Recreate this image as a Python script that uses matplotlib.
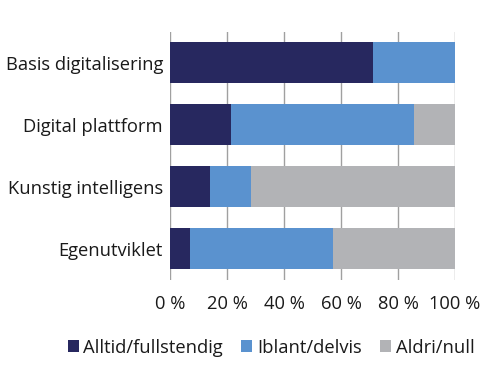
import matplotlib
matplotlib.use("Agg")
from matplotlib import pyplot as plt
import numpy as np

categories = ["Basis digitalisering", "Digital plattform", "Kunstig intelligens", "Egenutviklet"]
series_names = ["Alltid/fullstendig", "Iblant/delvis", "Aldri/null"]
alltid = [71.3, 21.3, 14.2, 7.1]
iblant = [28.7, 64.4, 14.3, 50.0]
aldri = [0.0, 14.3, 71.5, 42.9]
xticks = [0, 20, 40, 60, 80, 100]

colors = ["#27285f", "#5a92cf", "#b2b3b6"]

plt.rcParams['font.family'] = ['Open Sans', 'DejaVu Sans']

fig = plt.figure(figsize=(5, 3.83), dpi=100)
ax = fig.add_axes([0.34, 0.269, 0.57, 0.648])

y = np.arange(len(categories))
left = np.zeros(len(categories))
for vals, name, c in zip([alltid, iblant, aldri], series_names, colors):
    ax.barh(y, vals, left=left, height=0.66, color=c, label=name, zorder=2)
    left += np.array(vals)

ax.set_ylim(3.5, -0.5)
ax.set_xlim(0, 100)
ax.set_xticks(xticks)
ax.set_xticklabels([f"{t} %" for t in xticks], fontsize=13.2, color="#1a1a1a")
ax.set_yticks(y)
ax.set_yticklabels(categories, fontsize=13.2, color="#1a1a1a")
ax.tick_params(axis='y', length=0, pad=5)
ax.tick_params(axis='x', length=0, pad=11)
ax.xaxis.grid(True, color="#a0a0a0", linewidth=1, zorder=0)
ax.set_axisbelow(True)
for s in ax.spines.values():
    s.set_visible(False)

fig.legend(loc="center", bbox_to_anchor=(0.542, 0.092), ncol=3, frameon=False,
           fontsize=13.2, handlelength=0.6, handleheight=0.6, handletextpad=0.25,
           columnspacing=1.0, labelcolor="#1a1a1a")

fig.savefig("out.png", dpi=100)
